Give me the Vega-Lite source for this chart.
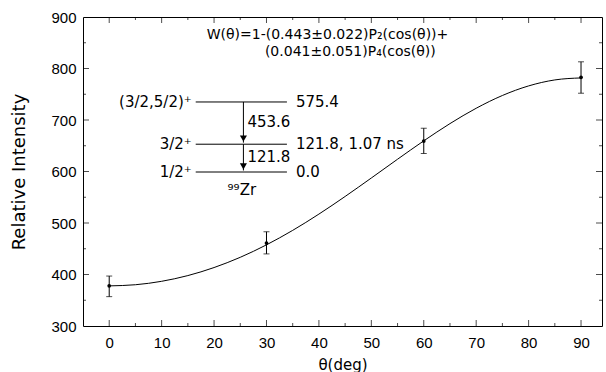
{
  "$schema": "https://vega.github.io/schema/vega-lite/v6.json",
  "width": 519,
  "height": 309,
  "autosize": "none",
  "padding": {"left": 83, "top": 17, "right": 4, "bottom": 46},
  "background": "white",
  "config": {
    "view": {"stroke": "black", "strokeWidth": 1},
    "axis": {
      "domain": false, "ticks": false,
      "labelFont": "Liberation Sans", "labelFontSize": 15, "labelColor": "black",
      "titleFont": "DejaVu Sans", "titleFontSize": 15, "titleColor": "black", "titleFontWeight": "normal",
      "grid": false
    },
    "text": {"font": "DejaVu Sans", "fontSize": 15, "color": "black"}
  },
  "datasets": {
    "curve": [
      {"theta": 0, "W": 377.9}, {"theta": 5, "W": 380.1}, {"theta": 10, "W": 386.8}, {"theta": 15, "W": 397.9},
      {"theta": 20, "W": 413.5}, {"theta": 25, "W": 433.4}, {"theta": 30, "W": 457.6}, {"theta": 35, "W": 485.7},
      {"theta": 40, "W": 517.3}, {"theta": 45, "W": 551.5}, {"theta": 50, "W": 587.4}, {"theta": 55, "W": 623.8},
      {"theta": 60, "W": 659.5}, {"theta": 65, "W": 693.0}, {"theta": 70, "W": 722.8}, {"theta": 75, "W": 747.6},
      {"theta": 80, "W": 766.2}, {"theta": 85, "W": 777.8}, {"theta": 90, "W": 781.7}
    ],
    "points": [
      {"theta": 0, "I": 378, "lo": 357, "hi": 397},
      {"theta": 30, "I": 461, "lo": 440, "hi": 483},
      {"theta": 60, "I": 659, "lo": 635, "hi": 684},
      {"theta": 90, "I": 783, "lo": 752, "hi": 813}
    ],
    "xmajor": [{"v": 0}, {"v": 10}, {"v": 20}, {"v": 30}, {"v": 40}, {"v": 50}, {"v": 60}, {"v": 70}, {"v": 80}, {"v": 90}],
    "xminor": [{"v": 5}, {"v": 15}, {"v": 25}, {"v": 35}, {"v": 45}, {"v": 55}, {"v": 65}, {"v": 75}, {"v": 85}],
    "ymajor": [{"v": 400}, {"v": 500}, {"v": 600}, {"v": 700}, {"v": 800}],
    "yminor": [{"v": 350}, {"v": 450}, {"v": 550}, {"v": 650}, {"v": 750}, {"v": 850}],
    "levels": [
      {"x1": 16.5, "x2": 33.9, "E": 735, "left": "(3/2,5/2)⁺", "right": "575.4"},
      {"x1": 16.5, "x2": 33.9, "E": 653, "left": "3/2⁺", "right": "121.8, 1.07 ns"},
      {"x1": 16.5, "x2": 33.9, "E": 599, "left": "1/2⁺", "right": "0.0"}
    ],
    "arrows": [
      {"x": 25.6, "from": 735, "to": 656, "head": 664, "label": "453.6", "ly": 696},
      {"x": 25.6, "from": 653, "to": 602, "head": 610, "label": "121.8", "ly": 628}
    ],
    "leftnotes": [
      {"x": 18.6, "y": 865, "t": "W(θ)=1-(0.443±0.022)P₂(cos(θ))+"},
      {"x": 29.7, "y": 832, "t": "(0.041±0.051)P₄(cos(θ))"}
    ],
    "centernotes": [
      {"x": 25.3, "y": 564, "t": "⁹⁹Zr"}
    ]
  },
  "encoding": {
    "x": {"type": "quantitative", "scale": {"domain": [-5, 94], "nice": false, "zero": false}},
    "y": {"type": "quantitative", "scale": {"domain": [300, 900], "nice": false, "zero": false}}
  },
  "layer": [
    {
      "data": {"name": "curve"},
      "mark": {"type": "line", "color": "black", "strokeWidth": 1, "interpolate": "monotone"},
      "encoding": {
        "x": {"field": "theta", "type": "quantitative",
          "axis": {"orient": "bottom", "title": "θ(deg)", "values": [0,10,20,30,40,50,60,70,80,90],
            "labelPadding": 9, "titlePadding": 7}},
        "y": {"field": "W", "type": "quantitative",
          "axis": {"orient": "left", "title": "Relative Intensity", "titleFontSize": 18, "values": [300,400,500,600,700,800,900],
            "labelPadding": 7, "titlePadding": 22}}
      }
    },
    {
      "data": {"name": "xmajor"},
      "mark": {"type": "tick", "orient": "vertical", "color": "black", "size": 6, "thickness": 1, "yOffset": -3},
      "encoding": {"x": {"field": "v", "type": "quantitative"}, "y": {"datum": 300, "type": "quantitative"}}
    },
    {
      "data": {"name": "xmajor"},
      "mark": {"type": "tick", "orient": "vertical", "color": "black", "size": 6, "thickness": 1, "yOffset": 3},
      "encoding": {"x": {"field": "v", "type": "quantitative"}, "y": {"datum": 900, "type": "quantitative"}}
    },
    {
      "data": {"name": "xminor"},
      "mark": {"type": "tick", "orient": "vertical", "color": "black", "size": 3, "thickness": 1, "yOffset": -1.5},
      "encoding": {"x": {"field": "v", "type": "quantitative"}, "y": {"datum": 300, "type": "quantitative"}}
    },
    {
      "data": {"name": "xminor"},
      "mark": {"type": "tick", "orient": "vertical", "color": "black", "size": 3, "thickness": 1, "yOffset": 1.5},
      "encoding": {"x": {"field": "v", "type": "quantitative"}, "y": {"datum": 900, "type": "quantitative"}}
    },
    {
      "data": {"name": "ymajor"},
      "mark": {"type": "tick", "orient": "horizontal", "color": "black", "size": 6, "thickness": 1, "xOffset": 3},
      "encoding": {"y": {"field": "v", "type": "quantitative"}, "x": {"datum": -5, "type": "quantitative"}}
    },
    {
      "data": {"name": "ymajor"},
      "mark": {"type": "tick", "orient": "horizontal", "color": "black", "size": 6, "thickness": 1, "xOffset": -3},
      "encoding": {"y": {"field": "v", "type": "quantitative"}, "x": {"datum": 94, "type": "quantitative"}}
    },
    {
      "data": {"name": "yminor"},
      "mark": {"type": "tick", "orient": "horizontal", "color": "black", "size": 3, "thickness": 1, "xOffset": 1.5},
      "encoding": {"y": {"field": "v", "type": "quantitative"}, "x": {"datum": -5, "type": "quantitative"}}
    },
    {
      "data": {"name": "yminor"},
      "mark": {"type": "tick", "orient": "horizontal", "color": "black", "size": 3, "thickness": 1, "xOffset": -1.5},
      "encoding": {"y": {"field": "v", "type": "quantitative"}, "x": {"datum": 94, "type": "quantitative"}}
    },
    {
      "data": {"name": "points"},
      "mark": {"type": "point", "filled": true, "color": "black", "size": 14, "opacity": 1},
      "encoding": {
        "x": {"field": "theta", "type": "quantitative"},
        "y": {"field": "I", "type": "quantitative"}
      }
    },
    {
      "data": {"name": "points"},
      "mark": {"type": "rule", "color": "black", "strokeWidth": 1},
      "encoding": {
        "x": {"field": "theta", "type": "quantitative"},
        "y": {"field": "lo", "type": "quantitative"},
        "y2": {"field": "hi"}
      }
    },
    {
      "data": {"name": "points"},
      "mark": {"type": "tick", "orient": "horizontal", "color": "black", "size": 6, "thickness": 1},
      "encoding": {
        "x": {"field": "theta", "type": "quantitative"},
        "y": {"field": "lo", "type": "quantitative"}
      }
    },
    {
      "data": {"name": "points"},
      "mark": {"type": "tick", "orient": "horizontal", "color": "black", "size": 6, "thickness": 1},
      "encoding": {
        "x": {"field": "theta", "type": "quantitative"},
        "y": {"field": "hi", "type": "quantitative"}
      }
    },
    {
      "data": {"name": "levels"},
      "mark": {"type": "rule", "color": "black", "strokeWidth": 1},
      "encoding": {
        "x": {"field": "x1", "type": "quantitative"},
        "x2": {"field": "x2"},
        "y": {"field": "E", "type": "quantitative"}
      }
    },
    {
      "data": {"name": "levels"},
      "mark": {"type": "text", "align": "right", "baseline": "middle", "dx": -4},
      "encoding": {
        "x": {"field": "x1", "type": "quantitative"},
        "y": {"field": "E", "type": "quantitative"},
        "text": {"field": "left"}
      }
    },
    {
      "data": {"name": "levels"},
      "mark": {"type": "text", "align": "left", "baseline": "middle", "dx": 9},
      "encoding": {
        "x": {"field": "x2", "type": "quantitative"},
        "y": {"field": "E", "type": "quantitative"},
        "text": {"field": "right"}
      }
    },
    {
      "data": {"name": "arrows"},
      "mark": {"type": "rule", "color": "black", "strokeWidth": 1},
      "encoding": {
        "x": {"field": "x", "type": "quantitative"},
        "y": {"field": "from", "type": "quantitative"},
        "y2": {"field": "to"}
      }
    },
    {
      "data": {"name": "arrows"},
      "mark": {"type": "point", "shape": "triangle-down", "filled": true, "color": "black", "size": 50, "opacity": 1},
      "encoding": {
        "x": {"field": "x", "type": "quantitative"},
        "y": {"field": "head", "type": "quantitative"}
      }
    },
    {
      "data": {"name": "arrows"},
      "mark": {"type": "text", "align": "left", "baseline": "middle", "dx": 4},
      "encoding": {
        "x": {"field": "x", "type": "quantitative"},
        "y": {"field": "ly", "type": "quantitative"},
        "text": {"field": "label"}
      }
    },
    {
      "data": {"name": "leftnotes"},
      "mark": {"type": "text", "align": "left", "baseline": "middle", "fontSize": 14},
      "encoding": {
        "x": {"field": "x", "type": "quantitative"},
        "y": {"field": "y", "type": "quantitative"},
        "text": {"field": "t"}
      }
    },
    {
      "data": {"name": "centernotes"},
      "mark": {"type": "text", "align": "center", "baseline": "middle"},
      "encoding": {
        "x": {"field": "x", "type": "quantitative"},
        "y": {"field": "y", "type": "quantitative"},
        "text": {"field": "t"}
      }
    }
  ]
}
